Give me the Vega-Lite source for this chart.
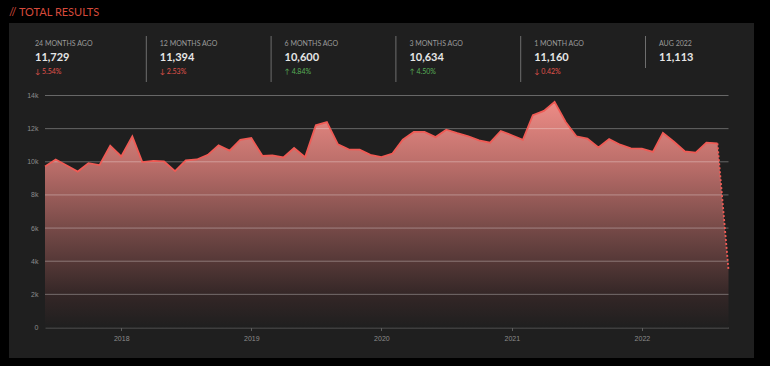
{
  "$schema": "https://vega.github.io/schema/vega-lite/v6.json",
  "width": 745,
  "height": 335,
  "autosize": {"type": "none"},
  "padding": {"left": 9, "top": 23, "right": 16, "bottom": 8},
  "background": "#000000",
  "config": {
    "view": {"fill": "#1f1f1f", "stroke": null},
    "font": "Lato"
  },
  "title": {
    "text": "// TOTAL RESULTS",
    "anchor": "start",
    "frame": "group",
    "offset": 5,
    "font": "Lato",
    "fontSize": 11,
    "fontWeight": "normal",
    "color": "#d64a3b"
  },
  "datasets": {
    "series": [
      {"date": "2017-06-01", "results": 9720},
      {"date": "2017-07-01", "results": 10140},
      {"date": "2017-08-01", "results": 9780},
      {"date": "2017-09-01", "results": 9410},
      {"date": "2017-10-01", "results": 9920},
      {"date": "2017-11-01", "results": 9800},
      {"date": "2017-12-01", "results": 10970},
      {"date": "2018-01-01", "results": 10320},
      {"date": "2018-02-01", "results": 11530},
      {"date": "2018-03-01", "results": 9980},
      {"date": "2018-04-01", "results": 10060},
      {"date": "2018-05-01", "results": 10020},
      {"date": "2018-06-01", "results": 9440},
      {"date": "2018-07-01", "results": 10080},
      {"date": "2018-08-01", "results": 10140},
      {"date": "2018-09-01", "results": 10420},
      {"date": "2018-10-01", "results": 10990},
      {"date": "2018-11-01", "results": 10670},
      {"date": "2018-12-01", "results": 11330},
      {"date": "2019-01-01", "results": 11430},
      {"date": "2019-02-01", "results": 10360},
      {"date": "2019-03-01", "results": 10380},
      {"date": "2019-04-01", "results": 10260},
      {"date": "2019-05-01", "results": 10830},
      {"date": "2019-06-01", "results": 10280},
      {"date": "2019-07-01", "results": 12200},
      {"date": "2019-08-01", "results": 12400},
      {"date": "2019-09-01", "results": 11050},
      {"date": "2019-10-01", "results": 10750},
      {"date": "2019-11-01", "results": 10730},
      {"date": "2019-12-01", "results": 10420},
      {"date": "2020-01-01", "results": 10280},
      {"date": "2020-02-01", "results": 10500},
      {"date": "2020-03-01", "results": 11330},
      {"date": "2020-04-01", "results": 11800},
      {"date": "2020-05-01", "results": 11800},
      {"date": "2020-06-01", "results": 11490},
      {"date": "2020-07-01", "results": 11940},
      {"date": "2020-08-01", "results": 11729},
      {"date": "2020-09-01", "results": 11540},
      {"date": "2020-10-01", "results": 11290},
      {"date": "2020-11-01", "results": 11150},
      {"date": "2020-12-01", "results": 11860},
      {"date": "2021-01-01", "results": 11600},
      {"date": "2021-02-01", "results": 11330},
      {"date": "2021-03-01", "results": 12810},
      {"date": "2021-04-01", "results": 13070},
      {"date": "2021-05-01", "results": 13620},
      {"date": "2021-06-01", "results": 12400},
      {"date": "2021-07-01", "results": 11540},
      {"date": "2021-08-01", "results": 11394},
      {"date": "2021-09-01", "results": 10870},
      {"date": "2021-10-01", "results": 11370},
      {"date": "2021-11-01", "results": 11030},
      {"date": "2021-12-01", "results": 10810},
      {"date": "2022-01-01", "results": 10790},
      {"date": "2022-02-01", "results": 10600},
      {"date": "2022-03-01", "results": 11740},
      {"date": "2022-04-01", "results": 11210},
      {"date": "2022-05-01", "results": 10634},
      {"date": "2022-06-01", "results": 10550},
      {"date": "2022-07-01", "results": 11160},
      {"date": "2022-08-01", "results": 11113},
      {"date": "2022-09-01", "results": 3480}
    ],
    "grid": [
      {"v": 2000, "start": "2017-06-01", "end": "2022-09-01"},
      {"v": 4000, "start": "2017-06-01", "end": "2022-09-01"},
      {"v": 6000, "start": "2017-06-01", "end": "2022-09-01"},
      {"v": 8000, "start": "2017-06-01", "end": "2022-09-01"},
      {"v": 10000, "start": "2017-06-01", "end": "2022-09-01"},
      {"v": 12000, "start": "2017-06-01", "end": "2022-09-01"},
      {"v": 14000, "start": "2017-06-01", "end": "2022-09-01"}
    ],
    "header": [
      {"col": 0, "period": "24 MONTHS AGO", "value": "11,729", "change": "↓ 5.54%", "dir": "down"},
      {"col": 1, "period": "12 MONTHS AGO", "value": "11,394", "change": "↓ 2.53%", "dir": "down"},
      {"col": 2, "period": "6 MONTHS AGO", "value": "10,600", "change": "↑ 4.84%", "dir": "up"},
      {"col": 3, "period": "3 MONTHS AGO", "value": "10,634", "change": "↑ 4.50%", "dir": "up"},
      {"col": 4, "period": "1 MONTH AGO", "value": "11,160", "change": "↓ 0.42%", "dir": "down"},
      {"col": 5, "period": "AUG 2022", "value": "11,113", "dir": "none"}
    ],
    "seps": [
      {"col": 1, "first": "period", "last": "change"},
      {"col": 2, "first": "period", "last": "change"},
      {"col": 3, "first": "period", "last": "change"},
      {"col": 4, "first": "period", "last": "change"},
      {"col": 5, "first": "period", "last": "value"}
    ]
  },
  "layer": [
    {
      "data": {"name": "series"},
      "encoding": {
        "x": {
          "field": "date",
          "type": "temporal",
          "scale": {
            "domain": ["2017-06-01", "2022-09-01"],
            "range": [36, 719.5]
          },
          "axis": {
            "orient": "bottom",
            "offset": -30.5,
            "title": null,
            "format": "%Y",
            "tickCount": {"interval": "year", "step": 1},
            "grid": false,
            "domainColor": "#5e5e5e",
            "tickColor": "#5e5e5e",
            "tickSize": 3,
            "labelColor": "#8c8c8c",
            "labelFont": "Liberation Sans",
            "labelFontSize": 7,
            "labelPadding": 4,
            "labelFlush": false
          }
        },
        "y": {
          "field": "results",
          "type": "quantitative",
          "scale": {"domain": [0, 14000], "range": [304.5, 72.5], "nice": false, "zero": true},
          "axis": {
            "orient": "left",
            "offset": -36,
            "title": null,
            "values": [0, 2000, 4000, 6000, 8000, 10000, 12000, 14000],
            "labelExpr": "datum.value == 0 ? '0' : format(datum.value / 1000, 'd') + 'k'",
            "grid": false,
            "domain": false,
            "ticks": false,
            "tickSize": 0,
            "labelPadding": 7,
            "labelColor": "#8c8c8c",
            "labelFont": "Liberation Sans",
            "labelFontSize": 7
          }
        }
      },
      "layer": [
        {
          "mark": {
            "type": "area",
            "interpolate": "linear",
            "color": {
              "gradient": "linear",
              "x1": 0, "y1": 0, "x2": 0, "y2": 1,
              "stops": [
                {"offset": 0, "color": "#ed8c86"},
                {"offset": 0.3, "color": "#b66b67"},
                {"offset": 0.6, "color": "#6d4543"},
                {"offset": 0.86, "color": "#332626"},
                {"offset": 1, "color": "#1f1f1f"}
              ]
            }
          },
          "encoding": {}
        },
        {
          "data": {"name": "grid"},
          "mark": {"type": "rule", "color": "#ffffff", "opacity": 0.32, "strokeWidth": 1},
          "encoding": {
            "x": {"field": "start", "type": "temporal"},
            "x2": {"field": "end"},
            "y": {"field": "v", "type": "quantitative"}
          }
        },
        {
          "transform": [{"filter": "time(datum.date) <= time(utc(2022, 7, 1))"}],
          "mark": {"type": "line", "color": "#ef5b55", "strokeWidth": 1.8},
          "encoding": {}
        },
        {
          "transform": [{"filter": "time(datum.date) >= time(utc(2022, 7, 1))"}],
          "mark": {"type": "line", "color": "#ef5b55", "strokeWidth": 1.8, "strokeDash": [2, 2]},
          "encoding": {}
        }
      ]
    },
    {
      "data": {"name": "header"},
      "transform": [{"fold": ["period", "value", "change"], "as": ["row", "label"]}],
      "encoding": {
        "x": {"field": "col", "type": "quantitative", "scale": {"domain": [0, 5], "range": [26, 650]}, "axis": null},
        "y": {"field": "row", "type": "nominal", "scale": {"type": "point", "domain": ["period", "value", "change"], "range": [21, 49], "padding": 0}, "axis": null}
      },
      "layer": [
        {
          "transform": [{"filter": "datum.row == 'period'"}],
          "mark": {"type": "text", "align": "left", "baseline": "middle", "font": "Lato", "fontSize": 7, "color": "#9a9a9a"},
          "encoding": {"text": {"field": "label"}}
        },
        {
          "transform": [{"filter": "datum.row == 'value'"}],
          "mark": {"type": "text", "align": "left", "baseline": "middle", "font": "Lato", "fontSize": 11, "fontWeight": "bold", "color": "#e6e6e6"},
          "encoding": {"text": {"field": "label"}}
        },
        {
          "transform": [{"filter": "datum.row == 'change' && isValid(datum.label)"}],
          "mark": {"type": "text", "align": "left", "baseline": "middle", "font": "Lato", "fontSize": 7},
          "encoding": {
            "text": {"field": "label"},
            "color": {"field": "dir", "type": "nominal", "scale": {"domain": ["down", "up", "none"], "range": ["#e0534b", "#58b058", "#9a9a9a"]}, "legend": null}
          }
        },
        {
          "data": {"name": "seps"},
          "transform": [],
          "mark": {"type": "rule", "color": "#6e6e6e", "strokeWidth": 1, "xOffset": -13.5, "yOffset": -8, "y2Offset": 10},
          "encoding": {
            "x": {"field": "col", "type": "quantitative"},
            "y": {"field": "first", "type": "nominal"},
            "y2": {"field": "last"}
          }
        }
      ]
    }
  ],
  "resolve": {
    "scale": {"x": "independent", "y": "independent"},
    "axis": {"x": "independent", "y": "independent"}
  }
}
